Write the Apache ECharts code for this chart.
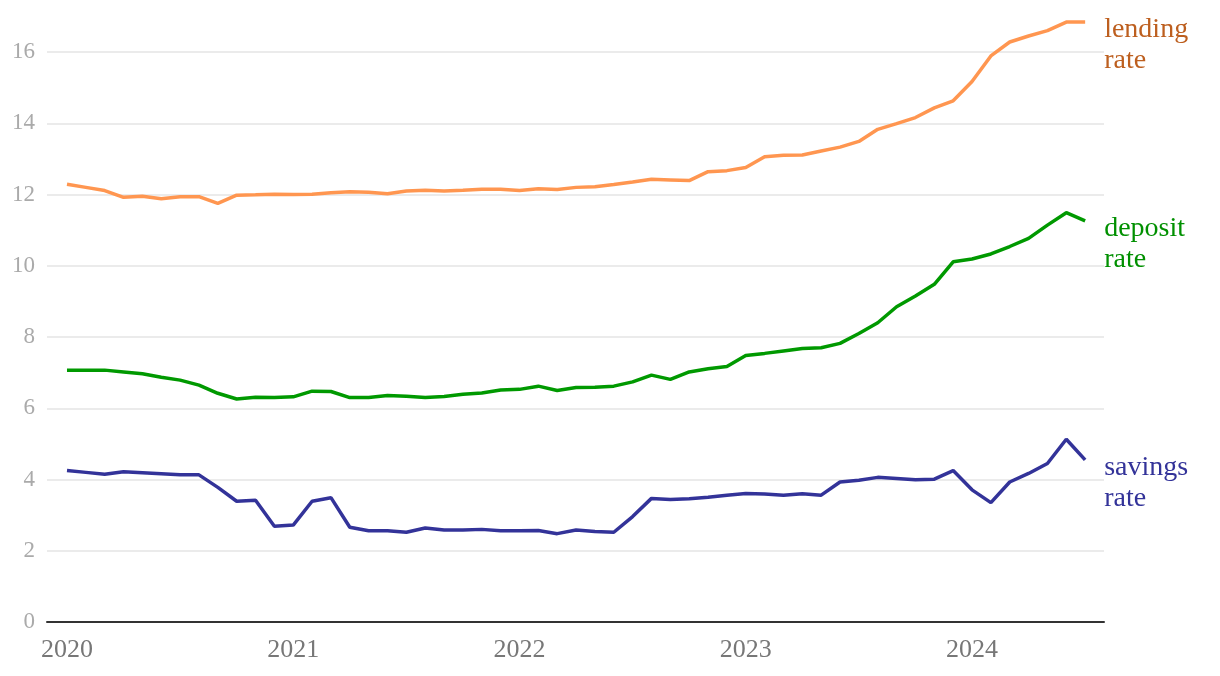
<!DOCTYPE html>
<html>
<head>
<meta charset="utf-8">
<script src="https://cdn.jsdelivr.net/npm/echarts@6/dist/echarts.min.js"></script>
<style>
html,body{margin:0;padding:0;background:#fff;}
#chart{width:1220px;height:676px;}
</style>
</head>
<body>
<div id="chart"></div>
<script>
const months = [
  '2020-01','2020-02','2020-03','2020-04','2020-05','2020-06','2020-07','2020-08','2020-09','2020-10','2020-11','2020-12',
  '2021-01','2021-02','2021-03','2021-04','2021-05','2021-06','2021-07','2021-08','2021-09','2021-10','2021-11','2021-12',
  '2022-01','2022-02','2022-03','2022-04','2022-05','2022-06','2022-07','2022-08','2022-09','2022-10','2022-11','2022-12',
  '2023-01','2023-02','2023-03','2023-04','2023-05','2023-06','2023-07','2023-08','2023-09','2023-10','2023-11','2023-12',
  '2024-01','2024-02','2024-03','2024-04','2024-05','2024-06','2024-07'
];
const yearLabels = ['2020','2021','2022','2023','2024'];
const yTicks = [0,2,4,6,8,10,12,14,16];

const lendingRate = [
  12.29,12.20,12.11,11.92,11.95,11.88,11.94,11.94,11.75,11.98,11.99,12.01,
  12.00,12.01,12.05,12.08,12.06,12.02,12.10,12.12,12.10,12.12,12.15,12.15,
  12.11,12.16,12.14,12.20,12.22,12.28,12.35,12.43,12.41,12.39,12.64,12.67,
  12.76,13.06,13.10,13.11,13.22,13.33,13.49,13.83,13.99,14.16,14.43,14.63,
  15.17,15.89,16.28,16.45,16.60,16.84,16.84
];
const depositRate = [
  7.07,7.07,7.07,7.02,6.97,6.87,6.79,6.65,6.42,6.26,6.31,6.30,
  6.32,6.48,6.47,6.30,6.30,6.36,6.34,6.30,6.33,6.39,6.43,6.51,
  6.53,6.62,6.50,6.58,6.59,6.62,6.74,6.93,6.81,7.02,7.11,7.17,
  7.48,7.54,7.61,7.68,7.70,7.82,8.10,8.40,8.85,9.15,9.48,10.11,
  10.19,10.33,10.54,10.77,11.14,11.49,11.26
];
const savingsRate = [
  4.25,4.20,4.15,4.22,4.19,4.16,4.13,4.13,3.78,3.39,3.42,2.69,
  2.72,3.39,3.49,2.66,2.56,2.56,2.52,2.64,2.58,2.58,2.60,2.56,
  2.56,2.57,2.48,2.58,2.54,2.52,2.96,3.47,3.44,3.46,3.50,3.56,
  3.61,3.59,3.56,3.60,3.56,3.93,3.98,4.06,4.03,3.99,4.01,4.25,
  3.71,3.35,3.93,4.17,4.45,5.13,4.55
];

const seriesDefs = [
  {name: 'lending\nrate', values: lendingRate, line: '#ff9650', text: '#bd5f1f'},
  {name: 'deposit\nrate', values: depositRate, line: '#009900', text: '#009000'},
  {name: 'savings\nrate', values: savingsRate, line: '#333399', text: '#333399'}
];

const FONT = '"Liberation Serif", "DejaVu Serif", serif';
const tickIdx = yearLabels.map(y => months.indexOf(y + '-01'));

const chart = echarts.init(document.getElementById('chart'), null, {renderer: 'canvas'});
chart.setOption({
  animation: false,
  backgroundColor: '#ffffff',
  grid: {left: 47, right: 116, top: 52, bottom: 54},
  xAxis: {
    type: 'value',
    min: -1.06,
    max: 55,
    axisLine: {show: true, onZero: true, lineStyle: {color: '#333333', width: 2}},
    axisTick: {show: false},
    splitLine: {show: false},
    axisLabel: {
      customValues: tickIdx,
      formatter: v => yearLabels[tickIdx.indexOf(Math.round(v))] || '',
      color: '#777777',
      fontFamily: FONT,
      fontSize: 26,
      margin: 15
    }
  },
  yAxis: {
    type: 'value',
    min: yTicks[0],
    max: yTicks[yTicks.length - 1],
    interval: 2,
    axisLine: {show: false},
    axisTick: {show: false},
    splitLine: {lineStyle: {color: '#e5e5e5', width: 1.5}},
    axisLabel: {color: '#aaaaaa', fontFamily: FONT, fontSize: 23, margin: 12}
  },
  series: seriesDefs.map(s => ({
    type: 'line',
    name: s.name,
    data: s.values.map((v, i) => [i, v]),
    showSymbol: false,
    clip: false,
    lineStyle: {color: s.line, width: 3.5},
    itemStyle: {color: s.line},
    endLabel: {
      show: true,
      formatter: s.name,
      color: s.text,
      fontFamily: FONT,
      fontSize: 28,
      lineHeight: 31,
      distance: 19,
      verticalAlign: 'top',
      offset: [0, -8]
    },
    emphasis: {disabled: true}
  }))
});
</script>
</body>
</html>
